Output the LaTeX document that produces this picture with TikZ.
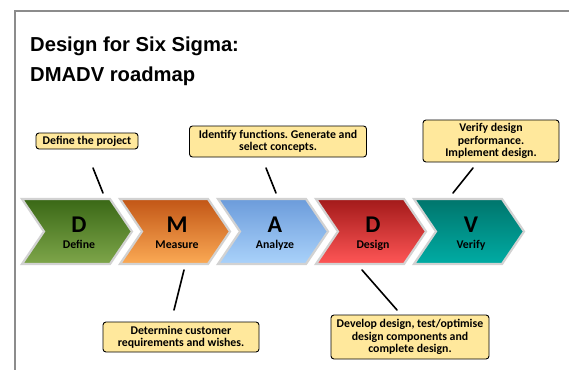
\documentclass[tikz,border=0pt]{standalone}
\usepackage{fontspec}
\setmainfont{Carlito}
\newfontfamily\titlefont{Liberation Sans}
\frenchspacing
\definecolor{framegray}{HTML}{8C8C8C}
\definecolor{calloutfill}{HTML}{FFE89C}
\definecolor{chevborder}{HTML}{D2D2D2}
\definecolor{gA}{HTML}{3A6816}\definecolor{gB}{HTML}{7EA64A}
\definecolor{oA}{HTML}{C25616}\definecolor{oB}{HTML}{FBAA55}
\definecolor{bA}{HTML}{6C9CDB}\definecolor{bB}{HTML}{AAD2FA}
\definecolor{rA}{HTML}{A31A1A}\definecolor{rB}{HTML}{FF5656}
\definecolor{tA}{HTML}{00756C}\definecolor{tB}{HTML}{00ACA4}
\newcommand\drawchev[6]{%
  \path[chev, top color=#2, bottom color=#3]
    (#1,199) -- ++(88,0) -- ++(22,32.5) -- ++(-22,32.5) -- ++(-88,0) -- ++(22,-32.5) -- cycle;
  \node[bigletter] (#6L) at (#1+57,232) {#4};
  \node[chevlabel] (#6T) at (#1+57,248) {#5};
}
\begin{document}
\begin{tikzpicture}[x=1pt,y=-1pt,
  callout/.style={draw=black, line width=0.9pt, fill=calloutfill, rounded corners=3pt,
    align=center, font=\bfseries\fontsize{11.8}{12.4}\selectfont, inner sep=1pt},
  link/.style={line width=1.6pt, line cap=round},
  chev/.style={draw=chevborder, line width=2.2pt, line join=miter},
  bigletter/.style={anchor=base, inner sep=0pt, font=\bfseries\fontsize{24}{24}\selectfont},
  chevlabel/.style={anchor=base, inner sep=0pt, font=\bfseries\fontsize{11.8}{12}\selectfont},
  titletext/.style={anchor=base west, inner sep=0pt, font=\titlefont\bfseries\fontsize{20.2}{24}\selectfont}]
\useasboundingbox (0,0) rectangle (569,369);
\draw[framegray, line width=1.5pt] (15,370) -- (15,11) -- (570,11);

\node[titletext] (t1) at (30,52) {Design for Six Sigma:};
\node[titletext] (t2) at (30,81) {DMADV roadmap};

\drawchev{22}{gA}{gB}{D}{Define}{c1}
\drawchev{120}{oA}{oB}{M}{Measure}{c2}
\drawchev{218}{bA}{bB}{A}{Analyze}{c3}
\drawchev{316}{rA}{rB}{D}{Design}{c4}
\drawchev{414}{tA}{tB}{V}{Verify}{c5}

\node[callout, minimum width=102pt, minimum height=16pt] (p1) at (87,141) {Define the project};
\node[callout, minimum width=177pt, minimum height=31pt] (p2) at (278,141.5) {Identify functions. Generate and\\select concepts.};
\node[callout, minimum width=136pt, minimum height=42pt] (p3) at (491,141) {Verify design\\performance.\\Implement design.};
\node[callout, minimum width=156pt, minimum height=30pt] (p4) at (181,337) {Determine customer\\requirements and wishes.};
\node[callout, minimum width=158pt, minimum height=44pt] (p5) at (410,337) {Develop design, test/optimise\\design components and\\complete design.};

\coordinate (a1s) at (93,168);  \coordinate (a1e) at (103,193);
\coordinate (a3s) at (266,168); \coordinate (a3e) at (276,193);
\coordinate (a5s) at (473,168); \coordinate (a5e) at (453,193);
\coordinate (a2s) at (184,270); \coordinate (a2e) at (174,310);
\coordinate (a4s) at (362,270); \coordinate (a4e) at (397,310);
\draw[link] (a1s) -- (a1e);
\draw[link] (a3s) -- (a3e);
\draw[link] (a5s) -- (a5e);
\draw[link] (a2s) -- (a2e);
\draw[link] (a4s) -- (a4e);
\end{tikzpicture}
\end{document}
